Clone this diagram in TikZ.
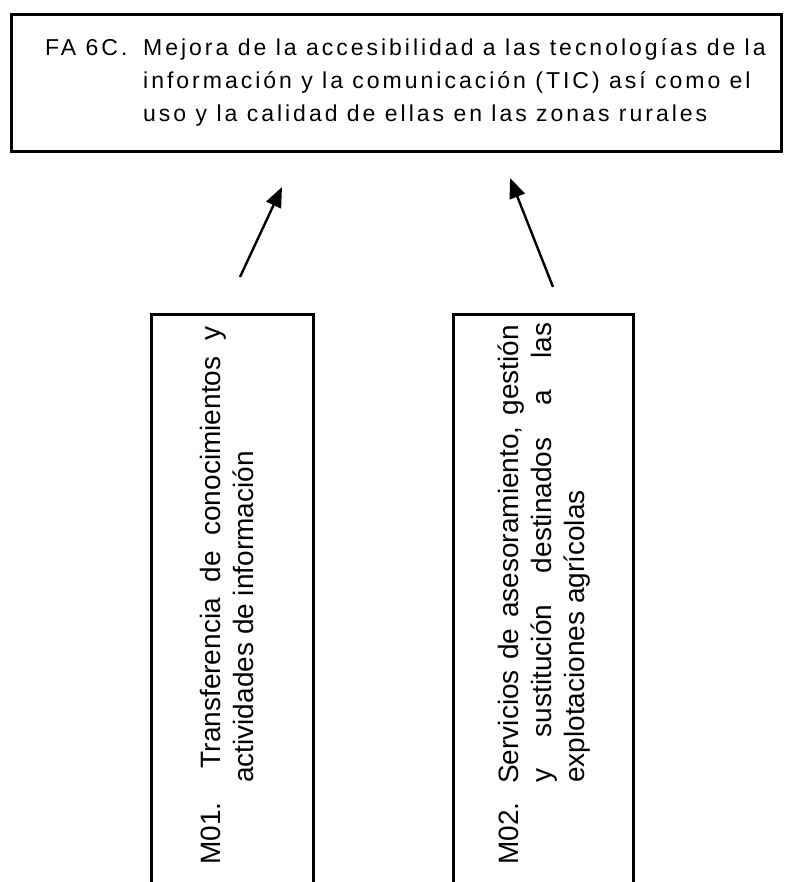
\documentclass[tikz,border=0pt]{standalone}
\usepackage{fontspec}
\setmainfont{Liberation Sans}
\newfontfamily\spacedfont[LetterSpace=13]{Liberation Sans}
\usetikzlibrary{arrows.meta,positioning}

\begin{document}
\begin{tikzpicture}[x=1pt, y=-1pt,
  box/.style={draw, line width=2.8pt, inner sep=0pt, anchor=north west},
  lbl/.style={inner sep=0pt, anchor=base west},
  uarr/.style={-{Triangle[length=20pt,width=16pt]}, line width=2.4pt}]

  \useasboundingbox (0,0) rectangle (784,882);
  \clip (0,0) rectangle (784,882);

  % Focus area box on top
  \node[box, minimum width=770pt, minimum height=137pt] (FA) at (10,13) {};
  \node[lbl, font=\spacedfont\fontsize{23}{33}\selectfont] (FAlbl) at (45,56)
    {\parbox[t]{735pt}{\makebox[98pt][l]{FA 6C.}Mejora de la accesibilidad a las tecnologías de la\\
     \hspace*{98pt}información y la comunicación (TIC) así como el\\
     \hspace*{98pt}uso y la calidad de ellas en las zonas rurales}};

  % Measure boxes, running off the bottom edge
  \node[box, minimum width=162pt, minimum height=600pt] (M01) at (150,313) {};
  \node[box, minimum width=180pt, minimum height=600pt] (M02) at (452,313) {};

  \node[lbl, rotate=90, font=\fontsize{28}{33}\selectfont] (M01lbl) at (220,865)
    {\parbox[t]{540pt}{\makebox[538pt][s]{M01. Transferencia de conocimientos y}\\
     \hspace*{82pt}actividades de información}};
  \node[lbl, rotate=90, font=\fontsize{28}{33}\selectfont] (M02lbl) at (518,865)
    {\parbox[t]{542pt}{\makebox[540pt][s]{M02. Servicios de asesoramiento, gestión}\\
     \hspace*{82pt}\makebox[460pt][s]{y sustitución destinados a las}\\
     \hspace*{82pt}explotaciones agrícolas}};

  % Arrows up to the focus area
  \coordinate (M01tail) at (240,277);
  \coordinate (M01head) at (282,187);
  \coordinate (M02tail) at (553,287);
  \coordinate (M02head) at (510,178);
  \draw[uarr] (M01tail) -- (M01head);
  \draw[uarr] (M02tail) -- (M02head);
\end{tikzpicture}
\end{document}
